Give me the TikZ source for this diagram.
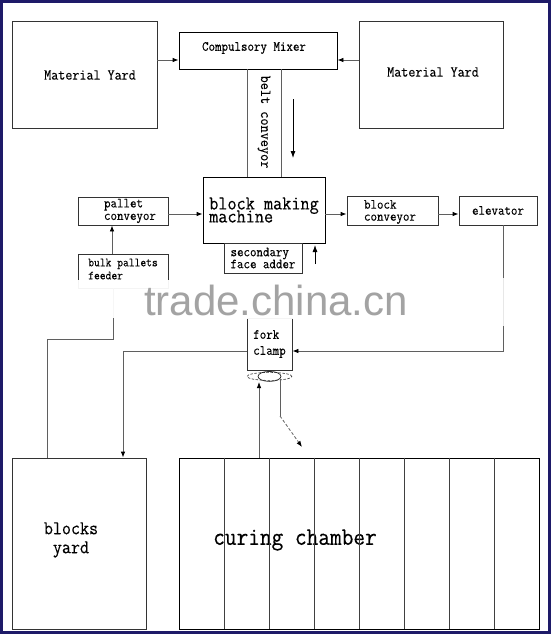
\documentclass[tikz,border=0pt]{standalone}
\usepackage{fontspec}
\newfontfamily\dfont{Latin Modern Mono}[FakeStretch=0.9,FakeBold=0.3]
\newfontfamily\wmfont{Liberation Sans}
\usetikzlibrary{arrows.meta}
\newcommand\negls{\lineskiplimit=-50pt\relax}
\definecolor{framec}{RGB}{30,26,104}
\definecolor{lnc}{RGB}{95,95,95}
\definecolor{wmc}{RGB}{163,163,163}
\tikzset{
  fs/.style 2 args={font=\dfont\fontsize{#1}{#2}\selectfont\negls},
  box/.style={draw=black!80, line width=0.8pt, inner sep=0pt, align=center, fs={14}{12}},
  txt/.style={inner sep=0pt, align=center},
  conn/.style={draw=lnc, line width=0.8pt},
  arr/.style={conn, -{Latex[length=6pt,width=4.5pt,color=black]}},
  barr/.style={draw=black, line width=0.8pt, -{Latex[length=7pt,width=5pt]}},
  divider/.style={draw=black!75, line width=0.8pt},
}
\begin{document}
\begin{tikzpicture}[x=1pt,y=-1pt]
\useasboundingbox (0,0) rectangle (551,634);
\fill[white] (0,0) rectangle (551,634);

% boxes
\node[box, minimum width=145pt, minimum height=107pt] (yardL) at (84.5,74.5) {};
\node[txt, fs={15.2}{15}] (yardLT) at (90,75) {Material Yard};
\node[box, draw=black, minimum width=158pt, minimum height=37pt] (mixer) at (258,50.5) {};
\node[txt, fs={14}{14}] (mixerT) at (254,48) {Compulsory Mixer};
\node[box, minimum width=144pt, minimum height=107pt] (yardR) at (431,74.5) {};
\node[txt, fs={15.2}{15}] (yardRT) at (433,72) {Material Yard};
\node[txt, fs={15.4}{15}, rotate=-90] (belt) at (264,122) {belt conveyor};
\node[box, draw=black, align=left, fs={19.7}{13}, minimum width=122pt, minimum height=66pt] (machine) at (264,210) {block making\\machine};
\node[box, align=left, fs={14}{12}, minimum width=78pt, minimum height=30pt] (adder) at (263,258) {secondary\\face adder};
\node[box, minimum width=90pt, minimum height=28pt] (palletC) at (123,211) {};
\node[txt, align=left, fs={14}{12.5}] (palletCT) at (130,211) {pallet\\conveyor};
\node[box, align=left, fs={12.5}{13}, minimum width=90pt, minimum height=34pt, text depth=4pt] (feeder) at (123,271) {bulk pallets\\feeder};
\node[box, minimum width=91pt, minimum height=29pt] (blockC) at (392.5,210.5) {};
\node[txt, align=left, fs={14}{12}] (blockCT) at (390,212) {block\\conveyor};
\node[box, minimum width=78pt, minimum height=29pt] (elev) at (498,210.5) {elevator};
\node[box, align=left, fs={14}{16}, minimum width=45pt, minimum height=52pt] (fork) at (269.5,344) {fork\\clamp};
\node[box, minimum width=134pt, minimum height=171pt] (yardB) at (79,543.5) {};
\node[txt, fs={19.5}{19}] (yardBT) at (71,540) {blocks\\yard};
\node[box, draw=black, minimum width=360pt, minimum height=171pt] (chamber) at (359,543.5) {};
\node[txt, fs={25.2}{25}] (chamberT) at (295,540) {curing chamber};
\foreach \i in {1,...,7}{
  \draw[divider] (chamber.north -| 179+45*\i,0) -- (chamber.south -| 179+45*\i,0);
}

% fork clamp ellipses
\draw[black!80, line width=0.6pt, dashed, dash pattern=on 2.5pt off 1.5pt] (fork.south) ++(0,6) ellipse [x radius=22.5pt, y radius=4pt];
\draw[black!85, line width=0.7pt] (fork.south) ++(0,6) ellipse [x radius=11.5pt, y radius=5pt];
\coordinate (upEnd) at (259,382);
\coordinate (dnStart) at (280,379);
\coordinate (dnBend) at (280,416);
\coordinate (dnEnd) at (302,447);

% connectors
\draw[arr] (yardL.east |- 0,60) -- (mixer.west |- 0,60);
\draw[arr] (yardR.west |- 0,60) -- (mixer.east |- 0,60);
\draw[conn] (mixer.south -| 247,0) -- (machine.north -| 247,0);
\draw[conn] (mixer.south -| 281,0) -- (machine.north -| 281,0);
\coordinate (beltA) at (293,99);
\coordinate (beltB) at (293,158);
\draw[barr] (beltA) -- (beltB);
\coordinate (adderA) at (315,264);
\coordinate (adderB) at (315,245);
\draw[barr] (adderA) -- (adderB);
\draw[arr] (palletC.east |- 0,214) -- (machine.west |- 0,214);
\draw[arr] ([xshift=-11pt]feeder.north) -- ([xshift=-11pt]palletC.south);
\draw[arr] (machine.east |- 0,214) -- (blockC.west |- 0,214);
\draw[arr] (blockC.east |- 0,214) -- (elev.west |- 0,214);
\draw[arr] ([xshift=5pt]elev.south) |- (fork.east |- 0,351);
\draw[conn] ([xshift=-10pt]feeder.south) |- (47,339) -- (yardB.north -| 47,0);
\draw[arr] (fork.west |- 0,351) -| (yardB.north -| 123,0);
\draw[arr] (chamber.north -| upEnd) -- (upEnd);
\draw[conn] (dnStart) -- (dnBend);
\draw[conn, dashed, dash pattern=on 3pt off 2pt, -{Latex[length=6pt,width=4.5pt,color=black]}] (dnBend) -- (dnEnd);

% watermark haze and text
\fill[white, opacity=0.95] (70,280) rectangle (175,318);
\fill[white, opacity=0.95] (240,300) rectangle (300,319);
\fill[white, opacity=0.85] (495,278) rectangle (512,326);
\node[inner sep=0pt, anchor=base, text=wmc, font=\wmfont\fontsize{42}{42}\selectfont] (wmark) at (276,315) {trade.china.cn};

% frame
\draw[framec, line width=3pt] (1.5,1.5) rectangle (549.5,632.5);
\end{tikzpicture}
\end{document}
